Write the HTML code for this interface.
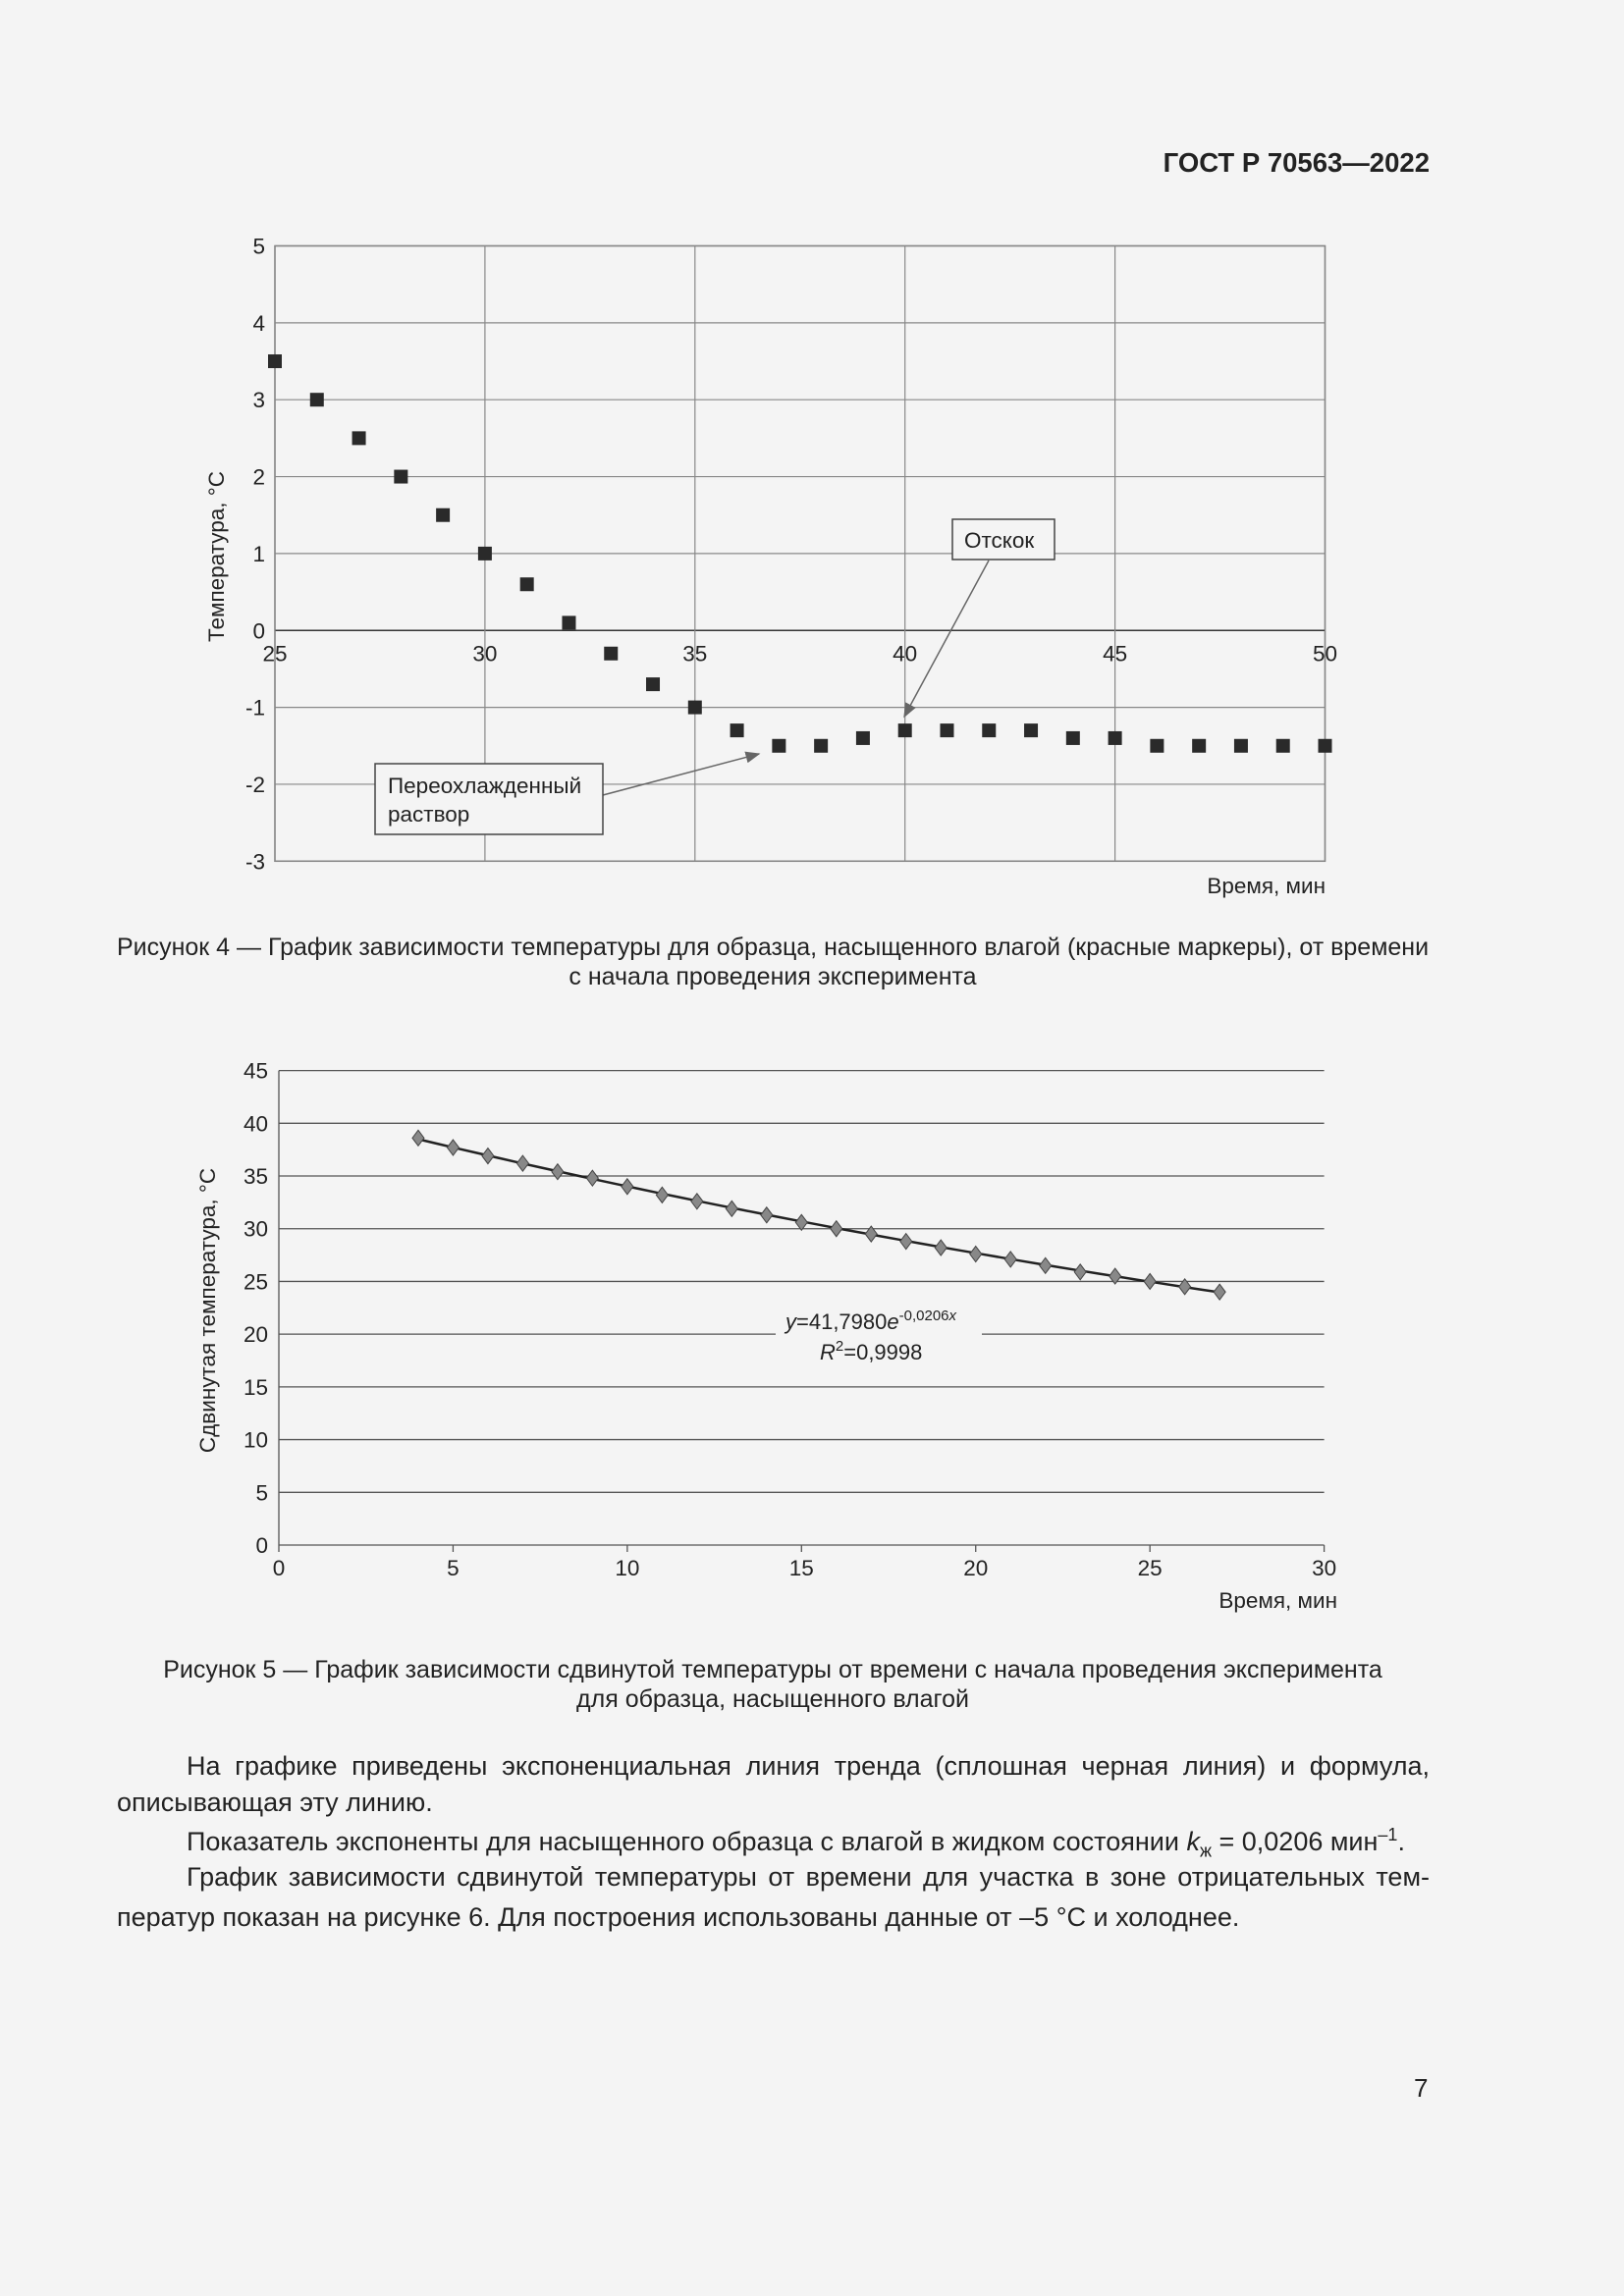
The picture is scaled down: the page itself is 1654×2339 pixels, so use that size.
<!DOCTYPE html>
<html><head><meta charset="utf-8">
<style>
html,body{margin:0;padding:0;background:#f4f4f4;}
#page{position:relative;width:1654px;height:2339px;background:#f4f4f4;font-family:"Liberation Sans",sans-serif;color:#222;overflow:hidden;}
.t{position:absolute;white-space:nowrap;}
.cap{position:absolute;left:0;width:1574px;text-align:center;font-size:25px;line-height:30px;}
.p{position:absolute;left:119px;width:1337px;font-size:27px;text-align:justify;text-align-last:justify;white-space:nowrap;}
svg text{font-family:"Liberation Sans",sans-serif;fill:#222;}
</style></head><body>
<div id="page">
<div class="t" style="right:198px;top:150px;font-size:27.5px;font-weight:bold;">ГОСТ Р 70563—2022</div>

<svg id="c1" width="1654" height="2339" style="position:absolute;left:0;top:0"></svg>

<div class="cap" style="top:950px;">Рисунок 4 — График зависимости температуры для образца, насыщенного влагой (красные маркеры), от времени<br>с начала проведения эксперимента</div>
<div class="cap" style="top:1686px;">Рисунок 5 — График зависимости сдвинутой температуры от времени с начала проведения эксперимента<br>для образца, насыщенного влагой</div>

<div class="p" style="top:1784px;left:190px;width:1266px;">На графике приведены экспоненциальная линия тренда (сплошная черная линия) и формула,</div>
<div class="p" style="top:1821px;text-align-last:left;">описывающая эту линию.</div>
<div class="p" style="top:1859px;left:190px;text-align-last:left;">Показатель экспоненты для насыщенного образца с влагой в жидком состоянии <i>k</i><sub style="font-size:18px">ж</sub> = 0,0206 мин<sup style="font-size:18px">–1</sup>.</div>
<div class="p" style="top:1897px;left:190px;width:1266px;">График зависимости сдвинутой температуры от времени для участка в зоне отрицательных тем-</div>
<div class="p" style="top:1938px;text-align-last:left;">ператур показан на рисунке 6. Для построения использованы данные от –5 °С и холоднее.</div>
<div class="t" style="left:1440px;top:2112px;font-size:26px;">7</div>
</div>
<script>
// Figure 4 data
const f4Times=[25,26,27,28,29,30,31,32,33,34,35,36,37,38,39,40,41,42,43,44,45,46,47,48,49,50];
const f4Temps=[3.5,3,2.5,2,1.5,1,0.6,0.1,-0.3,-0.7,-1,-1.3,-1.5,-1.5,-1.4,-1.3,-1.3,-1.3,-1.3,-1.4,-1.4,-1.5,-1.5,-1.5,-1.5,-1.5];
const f4XTicks=[25,30,35,40,45,50];
const f4YTicks=[5,4,3,2,1,0,-1,-2,-3];
// Figure 5 data
const f5Times=[4,5,6,7,8,9,10,11,12,13,14,15,16,17,18,19,20,21,22,23,24,25,26,27];
const f5Temps=[38.6,37.7,36.9,36.2,35.4,34.8,34.0,33.2,32.6,31.9,31.3,30.6,30.0,29.5,28.8,28.2,27.6,27.1,26.5,25.9,25.5,25.0,24.5,24.0];
const f5XTicks=[0,5,10,15,20,25,30];
const f5YTicks=[45,40,35,30,25,20,15,10,5,0];
const f5TrendA=41.798, f5TrendK=0.0206;

const NS='http://www.w3.org/2000/svg';
const svg=document.getElementById('c1');
const FS=22.5;
function el(tag,attrs,parent){const e=document.createElementNS(NS,tag);for(const k in attrs)e.setAttribute(k,attrs[k]);(parent||svg).appendChild(e);return e;}
function txt(s,attrs){const e=el('text',attrs);e.textContent=s;return e;}

// ---- Figure 4 ----
const x1=v=>280+(v-25)*(1349.5-280)/25;
const y1=v=>250.5+(5-v)*(877.3-250.5)/8;
let e;
e=el('rect',{x:280,y:250.5,width:1069.5,height:626.8,fill:'none',stroke:'#777','stroke-width':1.5});


f4YTicks.forEach(v=>{
 e=el('line',{x1:280,x2:1349.5,y1:y1(v),y2:y1(v),stroke:v===0?'#333':'#888','stroke-width':v===0?1.5:1.2});
 
 
 e=txt(String(v),{x:270,y:y1(v)+8,'font-size':FS,'text-anchor':'end'});
 
 
});
f4XTicks.forEach(v=>{
 e=el('line',{x1:x1(v),x2:x1(v),y1:250.5,y2:877.3,stroke:'#888','stroke-width':1.2});
 
 
 e=txt(String(v),{x:x1(v),y:y1(0)+31,'font-size':FS,'text-anchor':'middle'});
 
 
});
e=txt('Время, мин',{x:1350,y:910,'font-size':FS,'text-anchor':'end'});


e=txt('Температура, °С',{x:0,y:0,'font-size':FS,'text-anchor':'middle',transform:'translate(228,567) rotate(-90)'});


f4Times.forEach((t,i)=>{
 e=el('rect',{x:x1(t)-7,y:y1(f4Temps[i])-7,width:14,height:14,fill:'#2a2a2a'});
 
 
});
// annotations
el('defs',{}).innerHTML='<marker id="ah" markerWidth="10" markerHeight="8" refX="9" refY="4" orient="auto"><path d="M0,0 L10,4 L0,8 z" fill="#666"/></marker>';
e=el('line',{x1:1007,y1:571,x2:921,y2:730,stroke:'#666','stroke-width':1.5,'marker-end':'url(#ah)'});


e=el('line',{x1:614,y1:810,x2:773,y2:768,stroke:'#666','stroke-width':1.5,'marker-end':'url(#ah)'});


e=el('rect',{x:970,y:529,width:104,height:41,fill:'#f4f4f4',stroke:'#444','stroke-width':1.5});


e=txt('Отскок',{x:982,y:558,'font-size':FS});


e=el('rect',{x:382,y:778,width:232,height:72,fill:'#f4f4f4',stroke:'#444','stroke-width':1.5});


e=txt('Переохлажденный',{x:395,y:808,'font-size':FS});


e=txt('раствор',{x:395,y:837,'font-size':FS});



// ---- Figure 5 ----
const x2=v=>284+v*(1348.6-284)/30;
const y2=v=>1574+v*(1090.6-1574)/45;
f5YTicks.forEach(v=>{
 e=el('line',{x1:284,x2:1348.6,y1:y2(v),y2:y2(v),stroke:'#555','stroke-width':1.3});
 
 
 e=txt(String(v),{x:273,y:y2(v)+8,'font-size':FS,'text-anchor':'end'});
 
 
});
e=el('line',{x1:284,x2:284,y1:1090.6,y2:1574,stroke:'#555','stroke-width':1.3});


f5XTicks.forEach(v=>{
 e=el('line',{x1:x2(v),x2:x2(v),y1:1574,y2:1581,stroke:'#555','stroke-width':1.3});
 
 
 e=txt(String(v),{x:x2(v),y:1605,'font-size':FS,'text-anchor':'middle'});
 
 
});
e=txt('Время, мин',{x:1362,y:1638,'font-size':FS,'text-anchor':'end'});


e=txt('Сдвинутая температура, °С',{x:0,y:0,'font-size':FS,'text-anchor':'middle',transform:'translate(219,1335) rotate(-90)'});


// trend line
let d='';
const tMin=f5Times[0], tMax=f5Times[f5Times.length-1];
for(let k=0;k<=40;k++){const t=tMin+(tMax-tMin)*k/40;d+=(k?'L':'M')+x2(t).toFixed(1)+','+y2(f5TrendA*Math.exp(-f5TrendK*t)).toFixed(1);}
e=el('path',{d:d,fill:'none',stroke:'#222','stroke-width':2.5});


f5Times.forEach((t,i)=>{
 const cx=x2(t),cy=y2(f5Temps[i]);
 e=el('path',{d:`M${cx},${cy-8}L${cx+6},${cy}L${cx},${cy+8}L${cx-6},${cy}Z`,fill:'#888',stroke:'#444','stroke-width':1});
 
 
});
// equation label with white gap
e=el('rect',{x:790,y:1330,width:210,height:62,fill:'#f4f4f4'});


e=el('text',{x:800,y:1354,'font-size':22});
e.innerHTML='<tspan font-style="italic">y</tspan>=41,7980<tspan font-style="italic">e</tspan><tspan font-size="15" dy="-9">-0,0206</tspan><tspan font-size="15" font-style="italic">x</tspan>';


e=el('text',{x:835,y:1385,'font-size':22});
e.innerHTML='<tspan font-style="italic">R</tspan><tspan font-size="15" dy="-9">2</tspan><tspan dy="9">=0,9998</tspan>';


</script>
</body></html>
